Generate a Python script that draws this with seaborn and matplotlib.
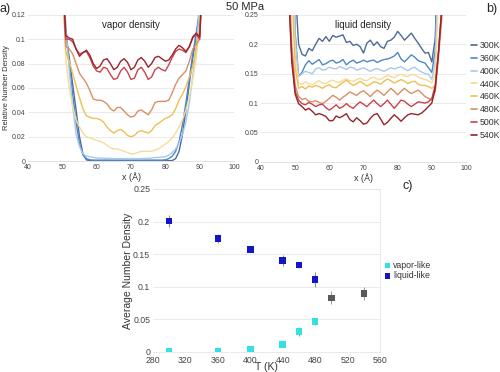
import numpy as np
import pandas as pd
import matplotlib
matplotlib.use("Agg")
import matplotlib.pyplot as plt
import seaborn as sns
from matplotlib.ticker import FuncFormatter, MultipleLocator

temps = ["300K", "360K", "400K", "440K", "460K", "480K", "500K", "540K"]
colors = ["#4e6a96", "#4f86c6", "#a9c9ea", "#f5dc9c", "#f0bf55",
          "#d98f68", "#c9434c", "#98232b"]

# panel a: vapor density profiles, x = 49..92 (A)
x_vap = list(range(49, 93))
vap_300 = [0.3, 0.15, 0.105, 0.085, 0.063, 0.042, 0.020, 0.006, 0.001, 0.0004,
           0.0003, 0.0003, 0.0003, 0.0003, 0.0003, 0.0003, 0.0003, 0.0003, 0.0003, 0.0003,
           0.0003, 0.0003, 0.0003, 0.0003, 0.0003, 0.0003, 0.0003, 0.0003, 0.0003, 0.0003,
           0.0003, 0.0003, 0.0003, 0.0004, 0.002, 0.008, 0.022, 0.042, 0.064, 0.085,
           0.103, 0.12, 0.2, 0.3]
vap_360 = [0.3, 0.16, 0.11, 0.08, 0.055, 0.032, 0.014, 0.005, 0.002, 0.001,
           0.0008, 0.0008, 0.0008, 0.0008, 0.0008, 0.0008, 0.0008, 0.0008, 0.0008, 0.0008,
           0.0008, 0.0008, 0.0008, 0.0008, 0.0008, 0.0008, 0.0008, 0.0008, 0.0008, 0.0008,
           0.0008, 0.001, 0.002, 0.004, 0.008, 0.016, 0.030, 0.048, 0.068, 0.088,
           0.105, 0.125, 0.2, 0.3]
vap_400 = [0.3, 0.18, 0.11, 0.075, 0.045, 0.022, 0.012, 0.006, 0.004, 0.0035,
           0.003, 0.0025, 0.0025, 0.0023, 0.0022, 0.0022, 0.002, 0.002, 0.002, 0.002,
           0.002, 0.002, 0.002, 0.002, 0.002, 0.0022, 0.0022, 0.0025, 0.003, 0.003,
           0.0033, 0.0035, 0.005, 0.007, 0.010, 0.015, 0.022, 0.032, 0.048, 0.070,
           0.095, 0.125, 0.2, 0.3]
vap_440 = [0.3, 0.16, 0.085, 0.060, 0.045, 0.034, 0.028, 0.023, 0.020, 0.019,
           0.018, 0.017, 0.016, 0.015, 0.013, 0.011, 0.010, 0.010, 0.009, 0.008,
           0.007, 0.006, 0.006, 0.007, 0.008, 0.008, 0.008, 0.008, 0.009, 0.010,
           0.012, 0.014, 0.016, 0.019, 0.023, 0.028, 0.034, 0.042, 0.053, 0.067,
           0.085, 0.11, 0.18, 0.3]
vap_460 = [0.3, 0.15, 0.090, 0.082, 0.072, 0.062, 0.052, 0.043, 0.037, 0.036,
           0.035, 0.035, 0.034, 0.032, 0.028, 0.025, 0.023, 0.025, 0.026, 0.024,
           0.021, 0.020, 0.021, 0.024, 0.025, 0.024, 0.023, 0.025, 0.029, 0.031,
           0.033, 0.035, 0.036, 0.038, 0.043, 0.050, 0.055, 0.061, 0.069, 0.078,
           0.092, 0.11, 0.18, 0.3]
vap_480 = [0.3, 0.15, 0.094, 0.092, 0.088, 0.080, 0.072, 0.068, 0.064, 0.058,
           0.051, 0.050, 0.050, 0.049, 0.047, 0.043, 0.041, 0.044, 0.044, 0.041,
           0.038, 0.036, 0.037, 0.041, 0.042, 0.040, 0.038, 0.042, 0.048, 0.049,
           0.049, 0.049, 0.050, 0.056, 0.063, 0.068, 0.071, 0.074, 0.082, 0.092,
           0.096, 0.100, 0.16, 0.3]
vap_500 = [0.3, 0.16, 0.100, 0.100, 0.098, 0.092, 0.088, 0.089, 0.090, 0.085,
           0.078, 0.074, 0.073, 0.077, 0.076, 0.071, 0.067, 0.068, 0.074, 0.077,
           0.073, 0.067, 0.068, 0.075, 0.077, 0.073, 0.067, 0.069, 0.075, 0.077,
           0.075, 0.074, 0.079, 0.085, 0.090, 0.092, 0.091, 0.089, 0.094, 0.101,
           0.104, 0.100, 0.16, 0.3]
vap_540 = [0.3, 0.16, 0.103, 0.101, 0.100, 0.092, 0.086, 0.089, 0.091, 0.087,
           0.080, 0.076, 0.078, 0.083, 0.084, 0.080, 0.075, 0.077, 0.082, 0.084,
           0.081, 0.075, 0.077, 0.083, 0.085, 0.082, 0.077, 0.080, 0.085, 0.086,
           0.084, 0.082, 0.083, 0.087, 0.092, 0.095, 0.093, 0.090, 0.094, 0.102,
           0.105, 0.102, 0.16, 0.3]

# panel b: liquid density profiles, x = 48..94 (A)
x_liq = list(range(48, 95))
liq_300 = [0.8, 0.6, 0.30, 0.200, 0.183, 0.180, 0.193, 0.189, 0.200, 0.210,
           0.205, 0.213, 0.205, 0.215, 0.212, 0.214, 0.216, 0.203, 0.205, 0.198,
           0.200, 0.196, 0.185, 0.202, 0.207, 0.198, 0.204, 0.196, 0.193, 0.205,
           0.207, 0.212, 0.222, 0.215, 0.207, 0.213, 0.219, 0.210, 0.202, 0.193,
           0.185, 0.186, 0.170, 0.21, 0.4, 0.6, 0.8]
liq_360 = [0.8, 0.6, 0.22, 0.146, 0.152, 0.165, 0.172, 0.166, 0.170, 0.174,
           0.165, 0.167, 0.171, 0.173, 0.168, 0.170, 0.174, 0.165, 0.170, 0.173,
           0.168, 0.170, 0.173, 0.170, 0.172, 0.173, 0.169, 0.172, 0.174, 0.175,
           0.177, 0.180, 0.186, 0.175, 0.170, 0.176, 0.182, 0.178, 0.172, 0.170,
           0.168, 0.160, 0.152, 0.19, 0.4, 0.6, 0.8]
liq_400 = [0.8, 0.55, 0.21, 0.145, 0.150, 0.154, 0.152, 0.150, 0.158, 0.160,
           0.156, 0.157, 0.161, 0.159, 0.158, 0.162, 0.160, 0.157, 0.161, 0.160,
           0.156, 0.158, 0.160, 0.157, 0.154, 0.157, 0.159, 0.156, 0.154, 0.157,
           0.160, 0.158, 0.160, 0.162, 0.158, 0.155, 0.159, 0.161, 0.156, 0.153,
           0.150, 0.149, 0.140, 0.17, 0.35, 0.55, 0.8]
liq_440 = [0.6, 0.35, 0.18, 0.134, 0.132, 0.136, 0.133, 0.131, 0.135, 0.138,
           0.134, 0.133, 0.137, 0.139, 0.136, 0.135, 0.139, 0.141, 0.138, 0.137,
           0.140, 0.142, 0.139, 0.138, 0.142, 0.144, 0.141, 0.140, 0.144, 0.147,
           0.145, 0.143, 0.147, 0.149, 0.146, 0.145, 0.149, 0.148, 0.144, 0.142,
           0.140, 0.138, 0.134, 0.15, 0.28, 0.45, 0.7]
liq_460 = [0.5, 0.3, 0.16, 0.125, 0.128, 0.124, 0.129, 0.127, 0.130, 0.128,
           0.125, 0.129, 0.131, 0.127, 0.126, 0.131, 0.135, 0.139, 0.134, 0.130,
           0.133, 0.137, 0.133, 0.129, 0.132, 0.136, 0.135, 0.132, 0.137, 0.141,
           0.138, 0.134, 0.137, 0.140, 0.137, 0.133, 0.136, 0.137, 0.132, 0.130,
           0.130, 0.128, 0.125, 0.13, 0.19, 0.26, 0.4]
liq_480 = [0.35, 0.2, 0.13, 0.111, 0.106, 0.108, 0.103, 0.102, 0.104, 0.101,
           0.099, 0.103, 0.108, 0.113, 0.110, 0.105, 0.110, 0.114, 0.119, 0.116,
           0.113, 0.118, 0.121, 0.116, 0.111, 0.117, 0.122, 0.118, 0.113, 0.119,
           0.125, 0.120, 0.114, 0.120, 0.125, 0.120, 0.116, 0.119, 0.122, 0.117,
           0.111, 0.108, 0.105, 0.12, 0.18, 0.25, 0.35]
liq_500 = [0.3, 0.18, 0.12, 0.105, 0.099, 0.097, 0.101, 0.098, 0.094, 0.097,
           0.098, 0.092, 0.088, 0.092, 0.097, 0.091, 0.094, 0.099, 0.094, 0.091,
           0.097, 0.102, 0.098, 0.094, 0.100, 0.105, 0.099, 0.094, 0.099, 0.105,
           0.098, 0.091, 0.098, 0.105, 0.103, 0.098, 0.094, 0.098, 0.102, 0.101,
           0.100, 0.102, 0.108, 0.13, 0.19, 0.27, 0.35]
liq_540 = [0.3, 0.17, 0.115, 0.099, 0.094, 0.088, 0.091, 0.086, 0.080, 0.082,
           0.080, 0.077, 0.070, 0.070, 0.078, 0.075, 0.078, 0.082, 0.072, 0.068,
           0.075, 0.070, 0.064, 0.066, 0.074, 0.080, 0.082, 0.073, 0.063, 0.067,
           0.074, 0.080, 0.075, 0.069, 0.075, 0.080, 0.082, 0.081, 0.080, 0.083,
           0.088, 0.094, 0.100, 0.125, 0.19, 0.27, 0.35]

# panel c: average number density
T_vap = [300, 360, 400, 440, 460, 480]
rho_vap = [0.0005, 0.001, 0.004, 0.011, 0.031, 0.047]
err_vap = [0.001, 0.002, 0.003, 0.003, 0.007, 0.005]
T_liq = [300, 360, 400, 440, 460, 480]
rho_liq = [0.201, 0.174, 0.157, 0.140, 0.133, 0.111]
err_liq = [0.009, 0.007, 0.004, 0.008, 0.005, 0.011]
T_sc = [500, 540]
rho_sc = [0.083, 0.090]
err_sc = [0.010, 0.010]

vap_all = [vap_300, vap_360, vap_400, vap_440, vap_460, vap_480, vap_500, vap_540]
liq_all = [liq_300, liq_360, liq_400, liq_440, liq_460, liq_480, liq_500, liq_540]

df_vap = pd.concat([pd.DataFrame({"x": x_vap, "rho": v, "T": t})
                    for t, v in zip(temps, vap_all)])
df_liq = pd.concat([pd.DataFrame({"x": x_liq, "rho": v, "T": t})
                    for t, v in zip(temps, liq_all)])
pal = dict(zip(temps, colors))

sns.set_style("white")
plt.rcParams["font.family"] = ["Liberation Sans", "DejaVu Sans"]

fig = plt.figure(figsize=(5.0, 3.72), dpi=100)
ax_a = fig.add_axes([0.056, 0.567, 0.412, 0.393])
ax_b = fig.add_axes([0.522, 0.565, 0.41, 0.395])
ax_c = fig.add_axes([0.306, 0.054, 0.454, 0.438])

fmt = FuncFormatter(lambda v, p: "%g" % round(v, 4))

sns.lineplot(data=df_vap, x="x", y="rho", hue="T", hue_order=temps, palette=pal,
             lw=1.0, ax=ax_a, legend=False, sort=True, estimator=None)
ax_a.set_xlim(40, 100)
ax_a.set_ylim(0, 0.12)
ax_a.yaxis.set_major_locator(MultipleLocator(0.02))
ax_a.xaxis.set_major_locator(MultipleLocator(10))
ax_a.set_ylabel("Relative Number Density", fontsize=5.5, color="#333333")
ax_a.yaxis.set_label_coords(-0.088, 0.5)
ax_a.set_xlabel("x (Å)", fontsize=6.5, color="#333333", labelpad=1)
ax_a.text(0.5, 0.93, "vapor density", transform=ax_a.transAxes, ha="center",
          va="center", fontsize=7)

sns.lineplot(data=df_liq, x="x", y="rho", hue="T", hue_order=temps, palette=pal,
             lw=1.0, ax=ax_b, sort=True, estimator=None)
ax_b.set_xlim(40, 100)
ax_b.set_ylim(0, 0.25)
ax_b.yaxis.set_major_locator(MultipleLocator(0.05))
ax_b.xaxis.set_major_locator(MultipleLocator(10))
ax_b.set_ylabel("")
ax_b.set_xlabel("x (Å)", fontsize=6.5, color="#333333", labelpad=1)
ax_b.text(0.5, 0.93, "liquid density", transform=ax_b.transAxes, ha="center",
          va="center", fontsize=7)
leg = ax_b.legend(loc="upper left", bbox_to_anchor=(1.0, 0.86), frameon=False,
                  fontsize=6.3, handlelength=0.7, handletextpad=0.25,
                  labelspacing=0.45, borderaxespad=0.2)
for line in leg.get_lines():
    line.set_linewidth(1.2)
for txt in leg.get_texts():
    txt.set_color("#333333")

for ax in (ax_a, ax_b):
    ax.yaxis.set_major_formatter(fmt)
    ax.tick_params(labelsize=5, colors="#444444", length=0, pad=2)
    ax.grid(axis="y", color="#e6e6e6", lw=0.6)
    ax.set_axisbelow(True)
    for s in ax.spines.values():
        s.set_visible(False)
    ax.spines["bottom"].set_visible(True)
    ax.spines["bottom"].set_color("#dddddd")
    ax.spines["bottom"].set_linewidth(0.6)

# panel c
ax_c.errorbar(T_vap, rho_vap, yerr=err_vap, fmt="none", ecolor="#888888",
              elinewidth=0.6, capsize=0, zorder=2)
ax_c.errorbar(T_liq, rho_liq, yerr=err_liq, fmt="none", ecolor="#777777",
              elinewidth=0.6, capsize=0, zorder=2)
ax_c.errorbar(T_sc, rho_sc, yerr=err_sc, fmt="none", ecolor="#888888",
              elinewidth=0.6, capsize=0, zorder=2)
sns.scatterplot(x=T_vap, y=rho_vap, marker="s", color="#35e0e3", s=22,
                edgecolor="none", ax=ax_c, label="vapor-like", zorder=3)
sns.scatterplot(x=T_liq, y=rho_liq, marker="s", color="#1515c8", s=22,
                edgecolor="none", ax=ax_c, label="liquid-like", zorder=3)
sns.scatterplot(x=T_sc, y=rho_sc, marker="s", color="#5a5a5a", s=22,
                edgecolor="none", ax=ax_c, zorder=3)
ax_c.set_xlim(280, 560)
ax_c.set_ylim(0, 0.25)
ax_c.xaxis.set_major_locator(MultipleLocator(40))
ax_c.yaxis.set_major_locator(MultipleLocator(0.05))
ax_c.yaxis.set_major_formatter(fmt)
ax_c.tick_params(labelsize=6.3, colors="#444444", length=0, pad=2)
ax_c.tick_params(axis="x", pad=3)
ax_c.set_xlabel("T (K)", fontsize=7.5, color="#333333")
ax_c.xaxis.set_label_coords(0.5, -0.06)
ax_c.set_ylabel("Average Number Density", fontsize=7.5, color="#333333")
ax_c.yaxis.set_label_coords(-0.088, 0.5)
ax_c.grid(axis="y", color="#e6e6e6", lw=0.6)
ax_c.set_axisbelow(True)
for s in ax_c.spines.values():
    s.set_color("#e6e6e6")
    s.set_linewidth(0.6)
ax_c.spines["left"].set_visible(False)
legc = ax_c.legend(loc="center left", bbox_to_anchor=(1.0, 0.5), frameon=False,
                   fontsize=6.3, handlelength=0.6, handletextpad=0.3,
                   labelspacing=0.2, borderaxespad=0.2, markerscale=0.8)
for txt in legc.get_texts():
    txt.set_color("#333333")

fig.text(0.0, 0.992, "a)", fontsize=9, va="top", ha="left")
fig.text(0.972, 0.992, "b)", fontsize=9, va="top", ha="left")
fig.text(0.805, 0.515, "c)", fontsize=9, va="top", ha="left")
fig.text(0.49, 0.995, "50 MPa", fontsize=8, va="top", ha="center")

fig.savefig("out.png", dpi=100)
